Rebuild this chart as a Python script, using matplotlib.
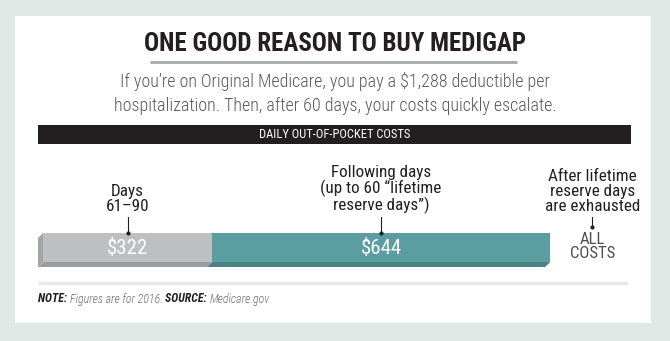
#!/usr/bin/env python3

import matplotlib
matplotlib.use("Agg")
import matplotlib.pyplot as plt
from matplotlib import font_manager
from matplotlib.patches import Rectangle, Polygon

# data
segment_labels = ["$322", "$644"]
segment_values = [322, 644]
segment_colors = ["#bebfc1", "#5b9da0"]
shadow_colors = ["#9c9d9f", "#4a8285"]
callouts = ["Days\n61\u201390",
            "Following days\n(up to 60 \u201clifetime\nreserve days\u201d)",
            "After lifetime\nreserve days\nare exhausted"]
final_label = "ALL\nCOSTS"

title = "ONE GOOD REASON TO BUY MEDIGAP"
subtitle = ("If you\u2019re on Original Medicare, you pay a $1,288 deductible per\n"
            "hospitalization. Then, after 60 days, your costs quickly escalate.")
band_label = "DAILY OUT-OF-POCKET COSTS"


def pick_font(names):
    have = {f.name for f in font_manager.fontManager.ttflist}
    for n in names:
        if n in have:
            return n
    return "DejaVu Sans"


FONT = pick_font(["Roboto Condensed", "Liberation Sans Narrow",
                  "DejaVu Sans Condensed", "Open Sans Condensed",
                  "Roboto", "Liberation Sans"])
narrow = FONT in ("Roboto Condensed", "Liberation Sans Narrow",
                  "DejaVu Sans Condensed", "Open Sans Condensed")
k = 1.0 if narrow else 0.82   # shrink text when no condensed face exists

W, H = 670, 341
fig = plt.figure(figsize=(W / 100, H / 100), dpi=100)
fig.patch.set_facecolor("#e1e9e6")

# base axes in pixel coordinates
ax = fig.add_axes([0, 0, 1, 1])
ax.set_xlim(0, W)
ax.set_ylim(H, 0)
ax.axis("off")

ax.add_patch(Rectangle((15, 16), 636, 307, facecolor="white", edgecolor="none"))

ax.text(335, 44, title, ha="center", va="center", fontsize=18 * k,
        fontweight="bold", color="#231f20", family=FONT)
ax.plot([150, 517], [62, 62], color="#a7a9ab", lw=2, solid_capstyle="butt")
ax.text(335, 93.5, subtitle, ha="center", va="center", fontsize=13 * k,
        color="#58595b", family=FONT, linespacing=1.45, fontweight="light")

ax.add_patch(Rectangle((38, 125), 593, 19, facecolor="#231f20", edgecolor="none"))
ax.text(335, 135, band_label, ha="center", va="center", fontsize=9 * k,
        color="white", family=FONT)

# bar axes: x in dollars, y in pixels
bx = fig.add_axes([0, 0, 1, 1])
px_per_dollar = 0.525
x0 = 43
bx.set_xlim(-x0 / px_per_dollar, (W - x0) / px_per_dollar)
bx.set_ylim(H, 0)
bx.axis("off")
bx.patch.set_alpha(0)

top, depth = 233, 29
off = 5 / px_per_dollar
lefts = [sum(segment_values[:i]) for i in range(len(segment_values))]
for lab, v, left, c, sc in zip(segment_labels, segment_values, lefts,
                               segment_colors, shadow_colors):
    # bottom extrusion
    bx.add_patch(Polygon([(left, top + depth), (left + v, top + depth),
                          (left + v - off, top + depth + 5),
                          (left - off, top + depth + 5)],
                         facecolor=sc, edgecolor="none"))
    bx.barh(top + depth / 2, v, left=left, height=depth, color=c,
            edgecolor="none")
    bx.text(left + v / 2, top + depth / 2 + 1, lab, ha="center", va="center",
            fontsize=15 * k, color="white", family=FONT)
# left side face
bx.add_patch(Polygon([(0, top), (-off, top + 5), (-off, top + depth + 5),
                      (0, top + depth)], facecolor="#a3a4a6", edgecolor="none"))

# callouts
total = sum(segment_values)
anchors = [segment_values[0] / 2, segment_values[0] + segment_values[1] / 2,
           total + 80]
for txt, xa in zip(callouts, anchors):
    bx.text(xa, 214, txt, ha="center", va="bottom", fontsize=12.3 * k,
            color="#231f20", family=FONT, linespacing=0.98)
for xa in anchors[:2]:
    bx.plot([xa, xa], [217, top], color="#231f20", lw=0.8)
    bx.plot([xa], [top], "o", color="#231f20", ms=2)
bx.plot([anchors[2], anchors[2]], [217, 227], color="#231f20", lw=0.8)
bx.plot([anchors[2]], [227], "o", color="#231f20", ms=2)
bx.text(anchors[2], 246.5, final_label, ha="center", va="center",
        fontsize=12 * k, color="#4d4e50", family=FONT, linespacing=0.95)

# footer
ax.plot([38, 628], [283, 283], color="#e4ebe9", lw=2.5, solid_capstyle="butt")
fig.canvas.draw()
r = fig.canvas.get_renderer()


def after(artist):
    bb = artist.get_window_extent(r)
    return ax.transData.inverted().transform((bb.x1, bb.y0))[0]


pieces = [("NOTE: ", "bold", "#231f20"),
          ("Figures are for 2016. ", "light", "#6d6e71"),
          ("SOURCE: ", "bold", "#231f20"),
          ("Medicare.gov", "light", "#6d6e71")]
x = 38
for s, w, c in pieces:
    t = ax.text(x, 299, s, ha="left", va="center", fontsize=8.6 * k,
                fontweight=w, style="italic", color=c, family=FONT)
    fig.canvas.draw()
    x = after(t)

fig.savefig("out.png", dpi=100, facecolor=fig.get_facecolor())
